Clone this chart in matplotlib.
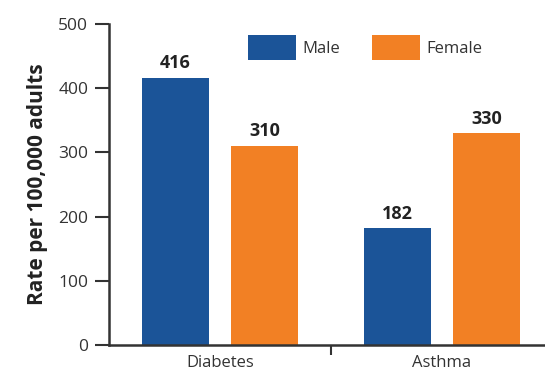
import numpy as np
import matplotlib
matplotlib.use('Agg')
import matplotlib.pyplot as plt

plt.rcParams['font.family'] = ['Open Sans', 'DejaVu Sans']

categories = ['Diabetes', 'Asthma']
male = [416, 182]
female = [310, 330]
series_names = ['Male', 'Female']

blue = '#1b5498'
orange = '#f28024'
dark = '#333333'

fig = plt.figure(figsize=(5.45, 3.73), dpi=100)
ax = fig.add_axes([109/545, 28/373, 444/545, 321/373])

x = np.arange(len(categories))
w = 0.302
b1 = ax.bar(x - 0.2, male, w, color=blue, label=series_names[0])
b2 = ax.bar(x + 0.2, female, w, color=orange, label=series_names[1])

for bars in (b1, b2):
    for r in bars:
        ax.annotate(str(int(r.get_height())), (r.get_x() + r.get_width()/2, r.get_height()),
                    xytext=(0, 4), textcoords='offset points', ha='center', va='bottom',
                    fontsize=13, fontweight='bold', color='#222222')

ax.set_xlim(-0.5, 1.5)
ax.set_ylim(0, 500)
ax.set_yticks([0, 100, 200, 300, 400, 500])
ax.set_xticks(x)
ax.set_xticklabels(categories)
ax.set_xticks([0.5], minor=True)
ax.tick_params(axis='x', which='major', length=0, pad=7, labelsize=12, labelcolor=dark)
ax.tick_params(axis='x', which='minor', length=7, width=1.5, color=dark, direction='out')
ax.tick_params(axis='y', length=10, width=1.5, color=dark, pad=5, labelsize=12.5, labelcolor=dark)

for s in ['top', 'right']:
    ax.spines[s].set_visible(False)
for s in ['left', 'bottom']:
    ax.spines[s].set_color(dark)
    ax.spines[s].set_linewidth(1.8)

ax.set_ylabel('Rate per 100,000 adults', fontsize=15, fontweight='bold', color='#222222', labelpad=7)

leg = ax.legend(loc='upper left', bbox_to_anchor=(248/545, 1 - 35/373), bbox_transform=fig.transFigure,
                ncol=2, frameon=False, handlelength=2.85, handleheight=1.95, handletextpad=0.4,
                columnspacing=1.95, borderpad=0, borderaxespad=0, fontsize=12)
for t in leg.get_texts():
    t.set_color(dark)

fig.savefig('out.png', dpi=100)
